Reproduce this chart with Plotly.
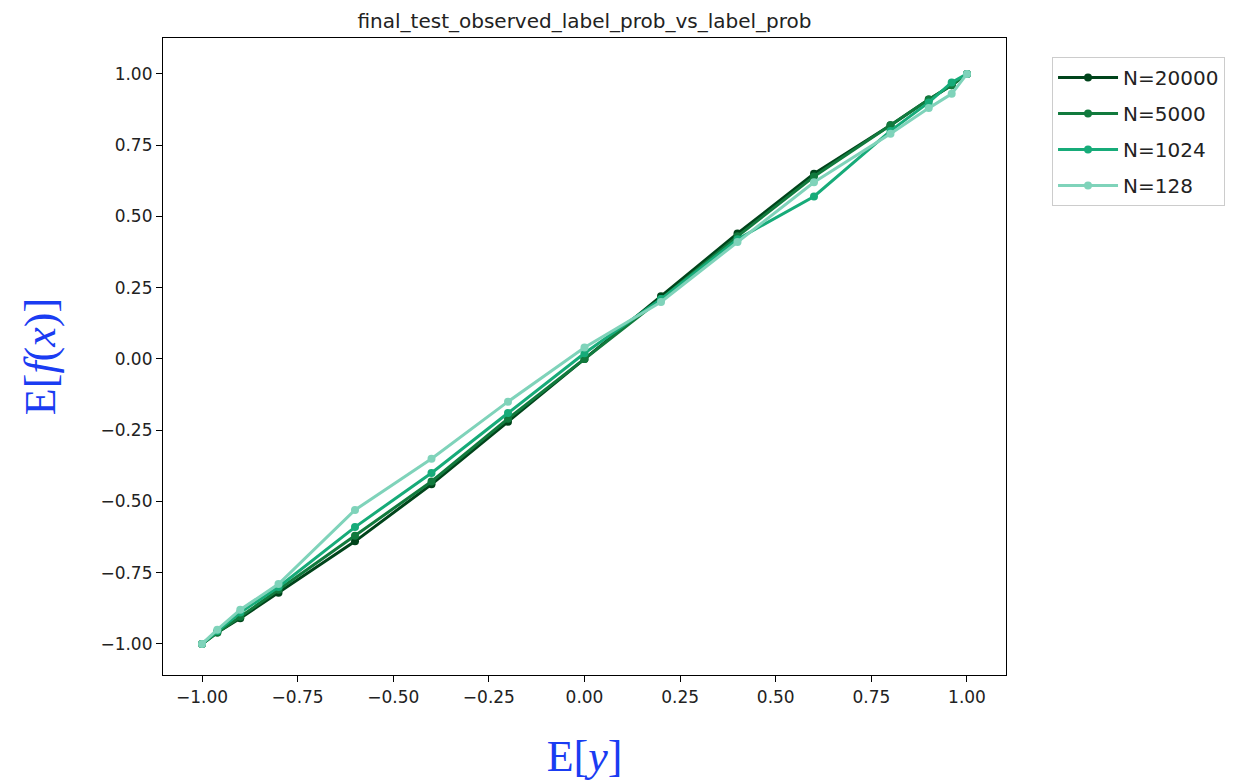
import plotly.graph_objects as go

x_vals = [-1.0, -0.96, -0.9, -0.8, -0.6, -0.4, -0.2, 0.0, 0.2, 0.4, 0.6, 0.8, 0.9, 0.96, 1.0]
series_names = ["N=20000", "N=5000", "N=1024", "N=128"]
y_20000 = [-1.0, -0.96, -0.91, -0.82, -0.64, -0.44, -0.22, 0.00, 0.22, 0.44, 0.65, 0.82, 0.91, 0.96, 1.0]
y_5000 = [-1.0, -0.96, -0.905, -0.81, -0.62, -0.43, -0.21, 0.00, 0.21, 0.43, 0.64, 0.82, 0.91, 0.96, 1.0]
y_1024 = [-1.0, -0.955, -0.89, -0.80, -0.59, -0.40, -0.19, 0.02, 0.21, 0.42, 0.57, 0.80, 0.90, 0.97, 1.0]
y_128 = [-1.0, -0.95, -0.88, -0.79, -0.53, -0.35, -0.15, 0.04, 0.20, 0.41, 0.62, 0.79, 0.88, 0.93, 1.0]
colors = ["#00441b", "#117a3d", "#17ab79", "#7fd3ba"]
tick_vals = [-1.0, -0.75, -0.5, -0.25, 0.0, 0.25, 0.5, 0.75, 1.0]
tick_text = ["−1.00", "−0.75", "−0.50", "−0.25", "0.00", "0.25", "0.50", "0.75", "1.00"]

fig = go.Figure()
for name, ys, c in zip(series_names, [y_20000, y_5000, y_1024, y_128], colors):
    fig.add_trace(go.Scatter(x=x_vals, y=ys, name=name, legendgroup=name, mode="lines+markers",
                             line=dict(color=c, width=3), marker=dict(color=c, size=8)))

axis_common = dict(showgrid=False, zeroline=False, showline=True, linecolor="black",
                   linewidth=1.2, mirror=True, ticks="outside", ticklen=6, tickwidth=1.2,
                   tickcolor="black", tickvals=tick_vals, ticktext=tick_text,
                   tickfont=dict(family="DejaVu Sans", size=17, color="#222"))

fig.update_layout(
    width=1240, height=782,
    margin=dict(l=163, r=234, t=38, b=107),
    paper_bgcolor="white", plot_bgcolor="white",
    title=dict(text="final_test_observed_label_prob_vs_label_prob", x=(163 + 1006) / 2 / 1240,
               xanchor="center", y=1 - 21 / 782, yanchor="middle",
               font=dict(family="DejaVu Sans", size=20, color="#222")),
    xaxis=dict(range=[-1.102, 1.102], **axis_common,
               title=dict(text="E[<i>y</i>]", standoff=34,
                          font=dict(family="Liberation Serif", size=44, color="#1a3cf2"))),
    yaxis=dict(range=[-1.109, 1.126], **axis_common,
               title=dict(text="E[<i>f</i>(<i>x</i>)]", standoff=30,
                          font=dict(family="Liberation Serif", size=44, color="#1a3cf2"))),
    legend=dict(x=1.0546, y=0.97, xanchor="left", yanchor="top",
                bordercolor="#cccccc", borderwidth=1, bgcolor="white",
                font=dict(family="DejaVu Sans", size=20, color="#222"),
                tracegroupgap=7, itemwidth=60),
)

fig.write_html("out.html")
